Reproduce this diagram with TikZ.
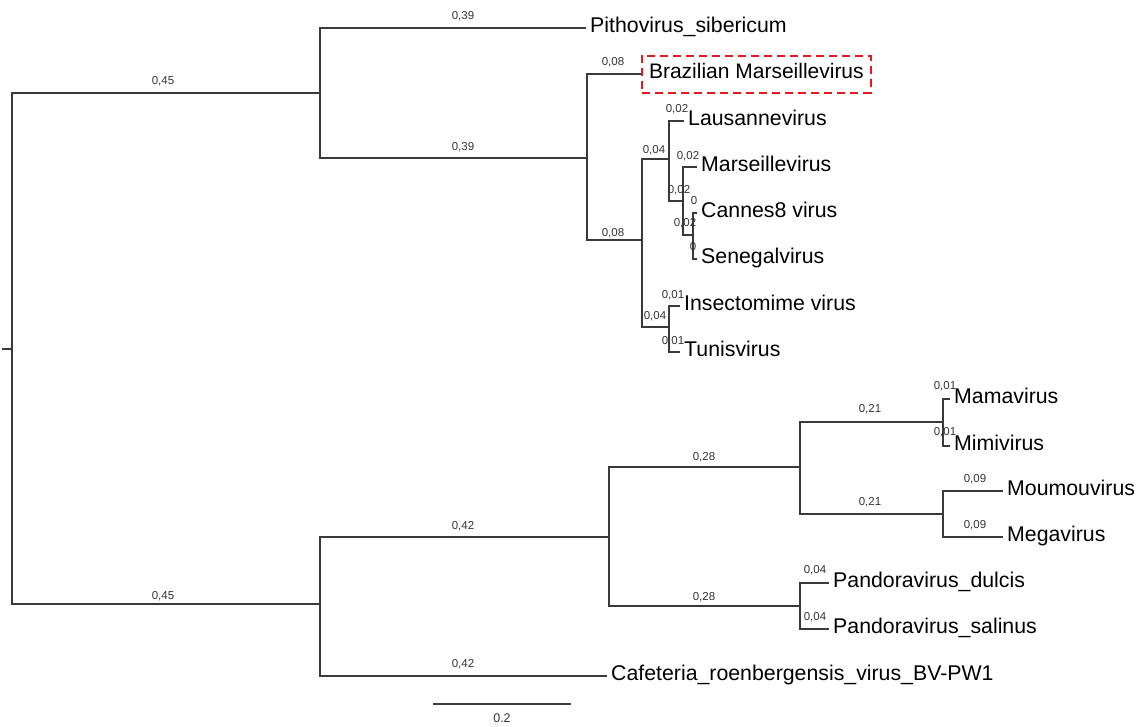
\documentclass[tikz,border=0pt]{standalone}
\usepackage{fontspec}
\setmainfont{Liberation Sans}
\definecolor{branch}{HTML}{3A3A3A}
\definecolor{lbl}{HTML}{333333}
\definecolor{boxred}{HTML}{E8191C}
\tikzset{
  br/.style={draw=branch, line width=1.3pt},
  leaf/.style={anchor=west, inner xsep=4pt, inner ysep=0pt, text height=14pt, text depth=5pt, font=\fontsize{21.3}{25}\selectfont, text=black},
  bl/.style={inner sep=0pt, font=\fontsize{11.5}{13}\selectfont, text=lbl},
  hl/.style={draw=boxred, line width=2pt, dash pattern=on 8pt off 5pt, anchor=west, inner xsep=7pt, inner ysep=9pt, text height=14pt, text depth=5pt, font=\fontsize{21}{25}\selectfont, text=black}
}
\begin{document}
\begin{tikzpicture}[x=1pt,y=-1pt]
\useasboundingbox (0,0) rectangle (1139,726);
% internal nodes
\coordinate (stub) at (2,349);
\coordinate (root) at (12,349);
\coordinate (A) at (320,93);
\coordinate (B) at (587,158);
\coordinate (C) at (642,240);
\coordinate (D) at (669,159);
\coordinate (E) at (683,201);
\coordinate (F) at (693,235);
\coordinate (G) at (669,327);
\coordinate (H) at (320,604);
\coordinate (I) at (609,537);
\coordinate (J) at (800,467);
\coordinate (K) at (800,606);
\coordinate (L) at (943,422);
\coordinate (M) at (943,514);
% leaves
\node[leaf] (tPitho) at (586,28) {Pithovirus\_sibericum};
\node[hl] (tBraz) at (641,74) {Brazilian Marseillevirus};
\node[leaf] (tLaus) at (684,121) {Lausannevirus};
\node[leaf] (tMars) at (697,167) {Marseillevirus};
\node[leaf] (tCann) at (697,213) {Cannes8 virus};
\node[leaf] (tSene) at (697,259) {Senegalvirus};
\node[leaf] (tInse) at (680,306) {Insectomime virus};
\node[leaf] (tTuni) at (680,352) {Tunisvirus};
\node[leaf] (tMama) at (950,399) {Mamavirus};
\node[leaf] (tMimi) at (950,446) {Mimivirus};
\node[leaf] (tMoum) at (1003,491) {Moumouvirus};
\node[leaf] (tMega) at (1003,537) {Megavirus};
\node[leaf] (tDulc) at (829,583) {Pandoravirus\_dulcis};
\node[leaf] (tSali) at (829,629) {Pandoravirus\_salinus};
\node[leaf] (tCafe) at (607,676) {Cafeteria\_roenbergensis\_virus\_BV-PW1};
% branches
\draw[br] (stub) -- (root);
\draw[br] (root) |- (A);
\draw[br] (root) |- (H);
\draw[br] (A) |- (tPitho.west);
\draw[br] (A) |- (B);
\draw[br] (B) |- (tBraz.west);
\draw[br] (B) |- (C);
\draw[br] (C) |- (D);
\draw[br] (C) |- (G);
\draw[br] (D) |- (tLaus.west);
\draw[br] (D) |- (E);
\draw[br] (E) |- (tMars.west);
\draw[br] (E) |- (F);
\draw[br] (F) |- ([xshift=4pt]F |- tCann.west);
\draw[br] (F) |- ([xshift=4pt]F |- tSene.west);
\draw[br] (G) |- (tInse.west);
\draw[br] (G) |- (tTuni.west);
\draw[br] (H) |- (I);
\draw[br] (H) |- (tCafe.west);
\draw[br] (I) |- (J);
\draw[br] (I) |- (K);
\draw[br] (J) |- (L);
\draw[br] (J) |- (M);
\draw[br] (L) |- (tMama.west);
\draw[br] (L) |- (tMimi.west);
\draw[br] (M) |- (tMoum.west);
\draw[br] (M) |- (tMega.west);
\draw[br] (K) |- (tDulc.west);
\draw[br] (K) |- (tSali.west);
% branch length labels
\node[bl] (b1) at (163,81) {0,45};
\node[bl] (b2) at (163,596) {0,45};
\node[bl] (b3) at (463,16) {0,39};
\node[bl] (b4) at (463,147) {0,39};
\node[bl] (b5) at (613,62) {0,08};
\node[bl] (b6) at (613,233) {0,08};
\node[bl] (b7) at (654,150) {0,04};
\node[bl] (b8) at (677,109) {0,02};
\node[bl] (b9) at (688,156) {0,02};
\node[bl] (b10) at (679,190) {0,02};
\node[bl] (b11) at (694,201) {0};
\node[bl] (b12) at (685,223) {0,02};
\node[bl] (b13) at (693,247) {0};
\node[bl] (b14) at (655,316) {0,04};
\node[bl] (b15) at (673,295) {0,01};
\node[bl] (b16) at (673,341) {0,01};
\node[bl] (b17) at (463,526) {0,42};
\node[bl] (b18) at (463,664) {0,42};
\node[bl] (b19) at (704,457) {0,28};
\node[bl] (b20) at (704,597) {0,28};
\node[bl] (b21) at (870,409) {0,21};
\node[bl] (b22) at (870,502) {0,21};
\node[bl] (b23) at (945,386) {0,01};
\node[bl] (b24) at (945,432) {0,01};
\node[bl] (b25) at (975,479) {0,09};
\node[bl] (b26) at (975,525) {0,09};
\node[bl] (b27) at (815,570) {0,04};
\node[bl] (b28) at (815,617) {0,04};
% scale bar
\coordinate (sb1) at (433,704);
\coordinate (sb2) at (571,704);
\draw[br] (sb1) -- (sb2);
\node[bl, font=\fontsize{12.5}{14}\selectfont] (sbl) at (502,718) {0.2};
\end{tikzpicture}
\end{document}
